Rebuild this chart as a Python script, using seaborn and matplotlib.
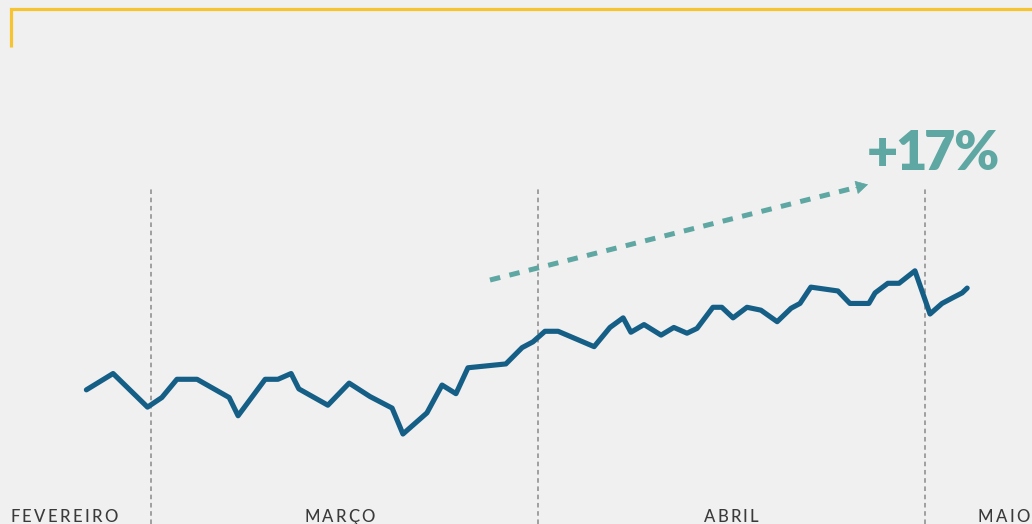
import matplotlib
matplotlib.use("Agg")
import matplotlib.pyplot as plt
import pandas as pd
import seaborn as sns
from matplotlib.font_manager import FontProperties
from matplotlib.textpath import TextToPath
from matplotlib.transforms import ScaledTranslation, blended_transform_factory

# Posição no tempo, em meses decorridos desde 1 de fevereiro (1 = 1º de março, 2 = 1º de abril, 3 = 1º de maio)
meses = [
    0.833, 0.902, 0.991, 1.028, 1.067, 1.119, 1.202, 1.225, 1.295, 1.328,
    1.362, 1.382, 1.457, 1.512, 1.566, 1.623, 1.651, 1.713, 1.752, 1.788,
    1.819, 1.917, 1.959, 1.987, 2.018, 2.052, 2.145, 2.186, 2.220, 2.240,
    2.274, 2.318, 2.351, 2.385, 2.411, 2.452, 2.475, 2.504, 2.540, 2.576,
    2.618, 2.654, 2.677, 2.705, 2.775, 2.806, 2.855, 2.871, 2.904, 2.933,
    2.974, 3.013, 3.044, 3.072, 3.096, 3.109,
]
# Índice (mínimo de março = 100)
indice = [
    104.6, 106.3, 102.8, 103.8, 105.7, 105.7, 103.8, 101.9, 105.7, 105.7,
    106.3, 104.7, 103.0, 105.3, 103.9, 102.7, 100.0, 102.2, 105.1, 104.2,
    106.9, 107.3, 109.0, 109.6, 110.7, 110.7, 109.1, 111.1, 112.1, 110.6,
    111.4, 110.3, 111.1, 110.5, 111.0, 113.2, 113.2, 112.1, 113.2, 112.9,
    111.7, 113.1, 113.6, 115.3, 114.9, 113.6, 113.6, 114.7, 115.7, 115.7,
    117.0, 112.5, 113.6, 114.2, 114.7, 115.2,
]
inicio_meses = [1, 2, 3]
rotulos_meses = ["FEVEREIRO", "MARÇO", "ABRIL", "MAIO"]
variacao = 17

FUNDO = "#f0f0f0"
AZUL = "#155f87"
VERDE = "#5ea7a2"
AMARELO = "#f6c431"
CINZA_TEXTO = "#3a3a3a"
CINZA_GUIA = "#8a8a8a"

sns.set_theme(style="white", rc={"figure.facecolor": FUNDO, "axes.facecolor": FUNDO})
plt.rcParams["font.family"] = ["Lato", "DejaVu Sans"]

fig = plt.figure(figsize=(10.32, 5.24), dpi=100)
ax = fig.add_axes([0, 0, 1, 1])
ax.set_xlim(0.6098, 3.2765)
ax.set_ylim(90.625, 145.21)
ax.axis("off")

# Guias verticais no início de cada mês
for m in inicio_meses:
    ax.axvline(m, ymin=0, ymax=0.641, color=CINZA_GUIA, lw=1.1, dashes=(3, 2.4), zorder=1)

# Série
df = pd.DataFrame({"mes": meses, "indice": indice})
sns.lineplot(data=df, x="mes", y="indice", ax=ax, color=AZUL, lw=3.7, sort=False, zorder=3)
serie = ax.lines[-1]
serie.set_solid_capstyle("round")
serie.set_solid_joinstyle("round")

# Moldura amarela no topo
ax.plot([0.0102, 0.0102, 1.0], [0.9103, 0.9819, 0.9819], transform=ax.transAxes,
        color=AMARELO, lw=2.3, solid_joinstyle="miter", solid_capstyle="butt", clip_on=False)

# Seta tracejada de tendência
ax.plot([0.4748, 0.8304], [0.4656, 0.6427], transform=ax.transAxes, color=VERDE,
        lw=3.6, dashes=(2.1, 1.9), solid_capstyle="butt", dash_capstyle="butt")
ax.annotate("", xy=(0.8411, 0.6479), xycoords="axes fraction",
            xytext=(0.8290, 0.6419), textcoords="axes fraction",
            arrowprops=dict(arrowstyle="-|>,head_length=0.8,head_width=0.45",
                            mutation_scale=10, color=VERDE, lw=0.5,
                            shrinkA=0, shrinkB=0))

ttp = TextToPath()


def texto_espacado(x, y, s, fp, tracking, ha, transform, **kw):
    """Escreve um texto letra a letra, com espaçamento extra (em pontos) entre elas."""
    larg = [0.0] + [ttp.get_text_width_height_descent(s[:i], fp, ismath=False)[0]
                    for i in range(1, len(s) + 1)]
    total = larg[-1] + tracking * (len(s) - 1)
    desloc = {"left": 0.0, "center": -total / 2, "right": -total}[ha]
    for i, ch in enumerate(s):
        dx = desloc + larg[i] + tracking * i
        tr = transform + ScaledTranslation(dx / 72, 0, fig.dpi_scale_trans)
        ax.text(x, y, ch, fontproperties=fp, transform=tr, ha="left", va="baseline",
                clip_on=False, **kw)


# Rótulos dos meses
fp_mes = FontProperties(family="Lato", weight="medium", size=12)
mistura = blended_transform_factory(ax.transData, ax.transAxes)
texto_espacado(0.0097, 0.0038, rotulos_meses[0], fp_mes, 1.7, "left", ax.transAxes, color=CINZA_TEXTO)
texto_espacado(1.488, 0.0038, rotulos_meses[1], fp_mes, 1.5, "center", mistura, color=CINZA_TEXTO)
texto_espacado(2.499, 0.0038, rotulos_meses[2], fp_mes, 1.5, "center", mistura, color=CINZA_TEXTO)
texto_espacado(0.998, 0.0038, rotulos_meses[3], fp_mes, 1.7, "right", ax.transAxes, color=CINZA_TEXTO)

# Destaque da variação
fp_var = FontProperties(family="Lato", weight="heavy", size=39)
texto_espacado(0.9671, 0.6756, f"+{variacao}%", fp_var, -2.0, "right", ax.transAxes, color=VERDE)

fig.savefig("out.png", dpi=100, facecolor=FUNDO)
